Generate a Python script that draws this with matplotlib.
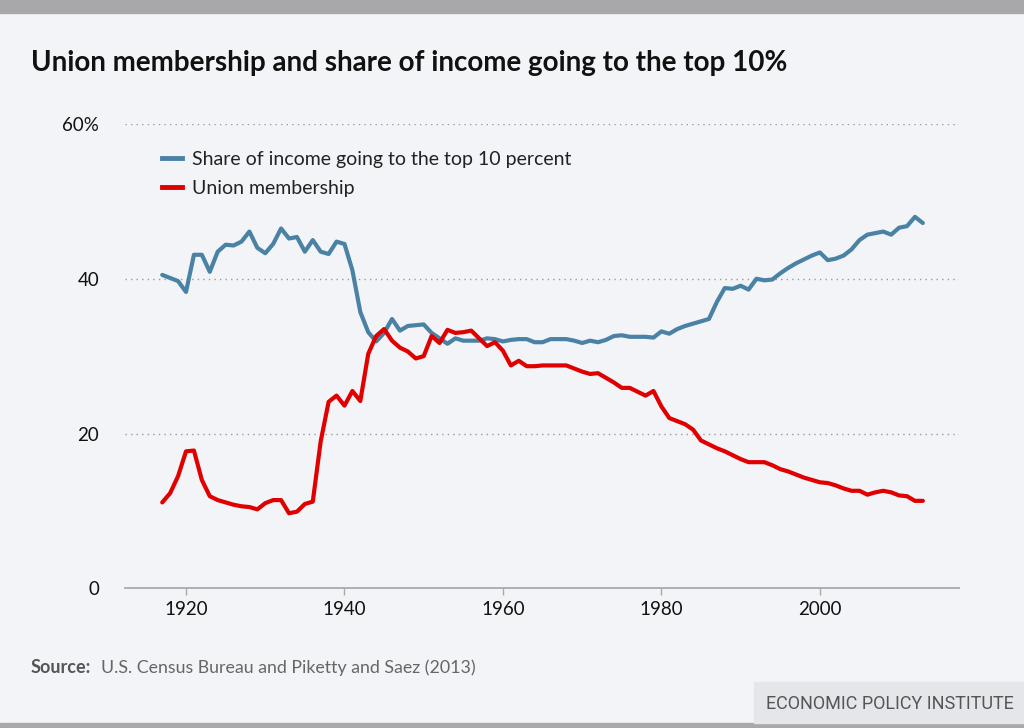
import matplotlib
matplotlib.use('Agg')
import matplotlib.pyplot as plt
from matplotlib.patches import Rectangle
from matplotlib.lines import Line2D

plt.rcParams['font.family'] = ['Lato', 'DejaVu Sans']

# 数据: 1917-2013
years = list(range(1917, 2014))

top10_share = [
    40.5, 40.1, 39.7, 38.3, 43.1, 43.1, 40.9, 43.5, 44.4, 44.3,   # 1917-1926
    44.8, 46.1, 44.0, 43.3, 44.5, 46.5, 45.2, 45.4, 43.5, 45.0,   # 1927-1936
    43.5, 43.2, 44.8, 44.5, 41.1, 35.7, 33.1, 31.9, 33.0, 34.8,   # 1937-1946
    33.3, 33.9, 34.0, 34.1, 33.0, 32.3, 31.6, 32.3, 32.0, 32.0,   # 1947-1956
    32.0, 32.3, 32.2, 31.9, 32.1, 32.2, 32.2, 31.8, 31.8, 32.2,   # 1957-1966
    32.2, 32.2, 32.0, 31.7, 32.0, 31.8, 32.1, 32.6, 32.7, 32.5,   # 1967-1976
    32.5, 32.5, 32.4, 33.2, 32.9, 33.5, 33.9, 34.2, 34.5, 34.8,   # 1977-1986
    37.0, 38.8, 38.7, 39.1, 38.6, 40.0, 39.8, 39.9, 40.7, 41.4,   # 1987-1996
    42.0, 42.5, 43.0, 43.4, 42.4, 42.6, 43.0, 43.8, 45.0, 45.7,   # 1997-2006
    45.9, 46.1, 45.7, 46.6, 46.8, 48.0, 47.2,                     # 2007-2013
]

union_membership = [
    11.1, 12.3, 14.5, 17.7, 17.8, 14.0, 11.9, 11.4, 11.1, 10.8,   # 1917-1926
    10.6, 10.5, 10.2, 11.0, 11.4, 11.4, 9.7, 9.9, 10.9, 11.2,     # 1927-1936
    19.0, 24.1, 24.9, 23.6, 25.5, 24.2, 30.3, 32.6, 33.5, 32.0,   # 1937-1946
    31.1, 30.6, 29.7, 30.0, 32.6, 31.7, 33.4, 33.0, 33.1, 33.3,   # 1947-1956
    32.3, 31.3, 31.8, 30.7, 28.8, 29.4, 28.7, 28.7, 28.8, 28.8,   # 1957-1966
    28.8, 28.8, 28.4, 28.0, 27.7, 27.8, 27.2, 26.6, 25.9, 25.9,   # 1967-1976
    25.4, 24.9, 25.5, 23.5, 22.0, 21.6, 21.2, 20.5, 19.1, 18.6,   # 1977-1986
    18.1, 17.7, 17.2, 16.7, 16.3, 16.3, 16.3, 15.9, 15.4, 15.1,   # 1987-1996
    14.7, 14.3, 14.0, 13.7, 13.6, 13.3, 12.9, 12.6, 12.6, 12.1,   # 1997-2006
    12.4, 12.6, 12.4, 12.0, 11.9, 11.3, 11.3,                     # 2007-2013
]

x_ticks = [1920, 1940, 1960, 1980, 2000]
y_ticks = [0, 20, 40, 60]
y_tick_labels = ['0', '20', '40', '60%']

BG = '#f3f4f7'
BLUE = '#4a82a6'
RED = '#e00000'

W, H = 1024, 728
fig = plt.figure(figsize=(W / 100, H / 100), dpi=100, facecolor=BG)

# 顶部和底部的灰条, EPI 标签背景
fig.patches.append(Rectangle((0, 1 - 13 / H), 1, 13 / H, transform=fig.transFigure,
                             color='#a8a8aa', zorder=0))
fig.patches.append(Rectangle((0, 0), 1, 5 / H, transform=fig.transFigure,
                             color='#a8a8aa', zorder=0))
fig.patches.append(Rectangle((754 / W, 5 / H), (W - 754) / W, 41 / H,
                             transform=fig.transFigure, color='#e5e6e9', zorder=0))

ax = fig.add_axes([125 / W, 1 - 588.3 / H, (959.3 - 125) / W, (588.3 - 124) / H])
ax.set_facecolor(BG)

ax.plot(years, union_membership, color=RED, lw=3.0, solid_joinstyle='round',
        solid_capstyle='round', zorder=3)
ax.plot(years, top10_share, color=BLUE, lw=3.0, solid_joinstyle='round',
        solid_capstyle='round', zorder=2)

ax.set_xlim(1912.3, 2017.6)
ax.set_ylim(0, 60)
ax.set_xticks(x_ticks)
ax.set_yticks(y_ticks)
ax.set_yticklabels(y_tick_labels)

ax.yaxis.grid(True, linestyle=(0, (1, 3)), color='#9a9a9a', lw=1.0)
ax.set_axisbelow(True)

for s in ['left', 'right', 'top']:
    ax.spines[s].set_visible(False)
ax.spines['bottom'].set_color('#aaaaaa')
ax.spines['bottom'].set_linewidth(1.3)

ax.tick_params(axis='x', length=5, width=1, color='#aaaaaa', labelsize=13.5,
               labelcolor='#111111', pad=4)
ax.tick_params(axis='y', length=0, labelsize=13.5, labelcolor='#111111', pad=18.5)

# 图例
handles = [Line2D([], [], color=BLUE, lw=3.5), Line2D([], [], color=RED, lw=3.5)]
labels = ['Share of income going to the top 10 percent', 'Union membership']
ax.legend(handles, labels, loc='upper left', bbox_to_anchor=(162 / W, 1 - 151 / H),
          bbox_transform=fig.transFigure, frameon=False, fontsize=14,
          handlelength=1.05, handletextpad=0.5, borderpad=0, borderaxespad=0,
          labelspacing=0.62, labelcolor='#222222')

# 标题和注释
fig.text(31 / W, 1 - 71 / H, 'Union membership and share of income going to the top 10%',
         fontsize=20, fontweight='bold', color='#111111', va='baseline', ha='left')
fig.text(31 / W, 1 - 673 / H, 'Source:', fontsize=13, fontweight='bold',
         color='#555555', va='baseline', ha='left')
fig.text(101 / W, 1 - 673 / H, 'U.S. Census Bureau and Piketty and Saez (2013)',
         fontsize=12.8, color='#666666', va='baseline', ha='left')
fig.text(1014 / W, 1 - 709 / H, 'ECONOMIC POLICY INSTITUTE', fontsize=13,
         color='#555555', va='baseline', ha='right',
         family=['Liberation Sans Narrow', 'Roboto'])

fig.savefig('out.png', dpi=100, facecolor=BG)
